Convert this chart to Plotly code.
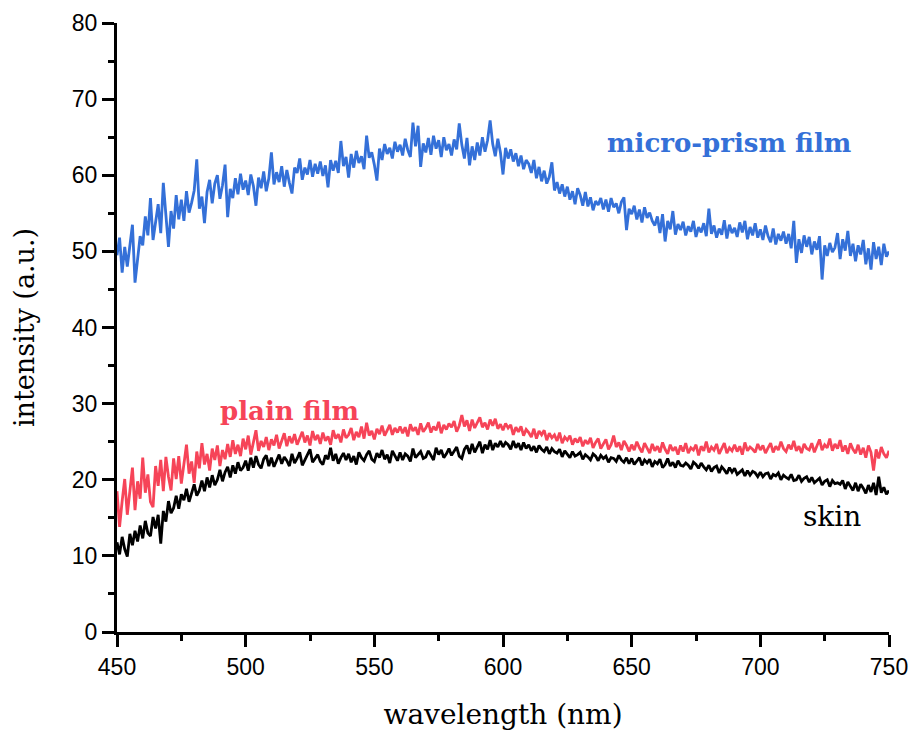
import numpy as np
import plotly.graph_objects as go

# Wavelength grid (nm), 1 nm steps
wavelength = list(range(450, 751))

# Measured intensity (a.u.) for each sample, one value per nm
micro_prism = [
    49.5, 51.8, 47.2, 50.6, 48.0, 51.2, 53.5, 45.9, 49.4, 52.0,
    50.8, 54.6, 52.1, 57.0, 51.5, 53.9, 56.2, 52.4, 59.0, 54.8,
    50.6, 55.3, 53.0, 57.4, 54.2, 56.8, 54.0, 57.9, 55.1, 56.4,
    58.0, 62.1, 55.6, 57.2, 53.7, 57.8, 59.4, 56.3, 58.9, 60.0,
    56.9, 58.7, 61.4, 54.5, 58.2, 57.0, 59.6, 57.5, 60.2, 58.1,
    59.3, 57.4, 60.1, 58.6, 56.0, 59.7, 58.3, 60.5, 57.9, 59.6,
    63.0, 58.8, 60.4, 59.1, 61.2, 58.5, 60.7, 59.0, 57.6, 61.0,
    60.3, 62.2, 59.4, 61.0, 60.1, 62.0, 59.8, 61.5, 60.2, 61.8,
    59.9, 61.3, 58.4, 62.0, 60.6, 61.9, 60.3, 64.5, 61.2, 62.4,
    59.7, 62.8, 61.0, 63.2, 61.6, 62.5, 60.8, 65.2, 62.3, 63.0,
    61.4, 59.3, 63.5, 62.0, 64.1, 62.8, 63.6, 62.2, 64.4, 63.1,
    64.0, 62.6, 64.8, 63.3, 62.4, 66.9, 63.8, 66.5, 61.1, 64.2,
    63.0, 64.9, 62.7, 65.2, 63.5, 64.6, 62.4, 65.0, 63.3, 64.1,
    62.6, 64.7, 63.4, 66.8, 64.0, 62.2, 64.9, 61.3, 63.8, 62.0,
    64.3, 62.6, 65.0, 63.1, 64.6, 67.2, 64.1, 62.5, 64.8, 63.0,
    60.1, 63.6, 62.2, 63.4, 61.8, 62.9, 61.2, 62.6, 60.8, 62.0,
    61.5, 60.3, 62.0, 59.6, 61.1, 59.2, 60.6, 58.9, 59.8, 61.7,
    58.0, 59.1, 57.6, 58.8, 57.2, 58.5, 56.8, 57.9, 56.2, 58.3,
    57.4, 56.0, 57.8, 55.9, 57.1, 55.4, 56.6, 56.1, 57.0, 55.5,
    56.8, 55.2, 57.0, 55.8, 56.3, 55.0, 56.5, 57.1, 52.8, 55.6,
    54.9, 56.0, 54.2, 55.5, 53.8, 55.8, 54.4, 55.1, 54.0, 53.4,
    54.6, 52.4, 54.9, 51.3, 54.0, 52.9, 55.3, 52.2, 53.6, 52.8,
    53.9, 52.1, 53.3, 52.6, 54.0, 51.9, 53.2, 52.5, 53.7, 52.0,
    55.6, 52.3, 53.4, 51.8, 53.0, 52.2, 54.1, 51.7, 53.5, 52.4,
    53.1, 51.9, 53.8, 52.5, 54.0, 51.6, 53.2, 52.1, 53.7, 51.8,
    52.9, 51.5, 53.4, 52.0, 51.2, 53.0, 50.9, 52.3, 51.4, 52.6,
    51.0, 52.3, 50.4, 54.0, 48.5, 51.6, 49.8, 52.1, 50.6, 51.9,
    49.6, 51.3, 50.2, 52.0, 46.3, 50.8, 49.4, 51.1, 49.9, 50.5,
    52.4, 49.0, 51.6, 50.1, 52.7, 49.4, 51.0, 48.7, 50.8, 49.6,
    51.5, 48.3, 50.4, 47.6, 51.2, 49.0, 50.6, 48.2, 51.0, 49.3,
    50.0,
]

plain_film = [
    18.5, 13.8, 17.2, 20.1, 15.4, 18.9, 21.6, 16.0, 19.8, 17.5,
    22.9, 18.3, 20.7, 17.1, 16.4, 21.8, 19.2, 22.6, 18.5, 23.0,
    20.4, 18.6, 22.8, 20.1, 23.1, 19.5, 21.9, 24.6, 20.8, 22.4,
    19.6, 23.7, 21.5, 24.8, 22.0, 23.4, 21.2, 24.1, 22.6, 24.5,
    21.8, 23.9, 22.7, 24.7, 23.0, 25.2, 23.4, 24.6, 23.1, 25.4,
    24.0, 25.8, 23.3, 24.9, 26.5, 23.8, 25.1, 24.3, 25.6, 23.9,
    25.3, 24.5, 25.9, 24.1, 25.0, 26.1, 24.4, 25.7, 24.8, 26.0,
    24.6, 25.5, 26.3, 24.9, 25.8, 24.5, 26.4, 25.2, 25.9, 24.7,
    26.2, 25.1, 25.7, 24.6, 26.5, 25.4, 26.0, 24.9, 26.6, 25.5,
    25.9, 26.8, 25.2, 26.3, 25.6, 27.0, 25.4, 27.5, 25.8, 26.4,
    25.3, 26.7, 26.0, 27.1, 25.8, 26.5, 27.2, 25.9, 26.8, 26.2,
    27.0, 26.1, 26.9, 25.7, 27.3, 26.4, 26.9, 25.9, 27.4, 26.3,
    26.8, 27.5, 26.2, 27.0, 26.5, 27.6, 26.1, 27.2, 26.6, 27.4,
    26.9, 27.7, 26.3, 27.1, 28.5, 27.0, 27.8, 26.4, 27.9, 26.8,
    27.6, 28.2, 26.9, 27.5, 26.6, 27.9, 27.1, 28.0, 26.7, 27.3,
    26.5, 27.4, 26.8, 27.2, 25.9, 26.9, 26.3, 27.0, 25.8, 26.6,
    26.2, 25.6, 26.7, 25.4, 26.4, 25.9, 26.5, 25.2, 26.1, 25.5,
    25.9, 25.1, 26.2, 24.8, 25.6, 25.2, 25.8, 24.6, 25.4, 24.9,
    25.6, 24.4, 25.2, 24.7, 25.5, 24.2, 24.9, 25.4, 24.1, 24.8,
    25.3, 24.0, 24.6, 25.8, 24.3, 24.9, 23.9, 25.1, 24.5, 23.7,
    24.6, 23.9, 25.0, 24.2, 23.6, 24.8, 24.1, 23.5, 24.7, 23.8,
    24.4, 23.6, 24.9, 24.0, 23.4, 24.6, 23.8, 24.3, 23.3, 24.5,
    23.7, 24.8, 23.5, 24.2, 23.9, 24.6, 23.2, 24.4, 23.8, 25.0,
    23.6, 24.3, 23.9, 24.7, 23.4, 24.1, 24.8, 23.5, 24.2, 23.8,
    24.6, 23.7, 24.4, 23.3, 24.9, 23.8, 24.3, 24.0, 23.6, 24.7,
    23.9, 24.5, 23.5, 24.2, 24.8, 23.6, 24.4, 23.9, 25.0, 24.1,
    23.7, 24.6, 24.0, 25.1, 23.8, 24.4, 23.5, 24.7, 24.1, 23.9,
    24.8, 23.6, 24.5, 25.3, 23.9, 24.6, 24.2, 25.4, 23.8, 24.7,
    24.1, 25.2, 23.7, 24.5, 23.4, 24.8, 24.0, 23.5, 24.6, 23.3,
    24.2, 22.9, 24.5, 23.6, 21.2, 24.0, 22.8, 24.3, 23.4, 22.9,
    23.8,
]

skin = [
    11.8, 10.2, 12.5, 10.9, 9.9, 12.9, 11.4, 13.3, 11.9, 14.0,
    12.3, 14.6, 13.0, 12.6, 15.1, 13.6, 15.4, 11.6, 15.9, 14.5,
    17.2, 15.6, 16.3, 17.9, 16.2, 18.1, 17.3, 18.8, 17.1, 18.4,
    19.4, 17.9, 18.6, 19.9, 18.5, 20.3, 19.0, 20.6, 19.3, 20.0,
    21.3, 19.8, 21.0, 21.7, 20.3, 21.9, 20.8, 22.3, 21.2, 21.6,
    22.5, 21.2, 22.9, 21.6, 23.1, 22.0, 21.5, 22.7, 23.2, 21.8,
    22.9, 21.7, 22.4, 23.3, 22.1, 23.0, 22.5, 21.8, 23.4, 22.2,
    22.8, 23.6, 21.9, 22.6, 23.1, 24.0, 22.3, 22.8, 23.3, 22.4,
    22.0, 23.2, 22.7, 24.2, 22.5, 23.4, 22.1, 22.9, 23.5, 22.6,
    23.4, 22.3, 23.1, 22.0, 23.6, 22.9, 22.5, 23.3, 23.8, 22.7,
    22.4, 23.5, 22.9, 23.9, 22.7, 23.3, 22.2, 23.8, 23.1, 22.5,
    23.6, 22.6, 23.4, 23.1, 22.4, 24.1, 22.9, 23.3, 23.7, 22.8,
    23.0, 23.8, 23.1, 22.6, 24.2, 23.3, 23.9, 22.9, 23.4, 24.1,
    23.2, 23.7, 24.3, 23.1, 22.8, 24.0, 24.5, 23.4, 24.7, 23.6,
    24.4, 25.0, 23.5, 24.6, 24.0, 25.2, 23.9, 24.8, 24.3, 25.1,
    24.3, 24.9, 24.6, 24.0, 25.1, 24.2, 24.8, 23.9, 24.9, 24.1,
    24.6, 23.8, 24.4, 23.6, 24.5, 24.0, 23.7, 24.3, 23.4, 24.1,
    23.7, 23.5, 24.0, 23.0, 23.8, 23.4, 22.9, 23.7, 23.1, 23.3,
    23.6, 22.7, 23.3, 23.0, 22.6, 23.4, 23.1, 22.5, 23.2, 22.8,
    23.1, 22.3, 22.9, 22.8, 22.4, 23.2, 22.6, 22.3, 22.9, 22.1,
    22.8, 22.0, 22.5, 22.9, 21.9, 22.6, 22.2, 22.7, 21.7, 22.4,
    22.1, 22.7, 21.6, 22.0, 22.8, 21.8, 22.3, 21.6, 22.5, 21.9,
    21.8, 22.2, 21.9, 21.4, 22.3, 22.0, 21.5, 22.2, 21.7, 21.3,
    21.9, 21.1, 21.6, 21.8, 20.9, 21.7, 21.3, 20.8, 21.6, 21.0,
    21.5, 20.7, 21.0, 21.3, 20.5, 21.2, 20.6, 21.1, 20.9, 20.4,
    21.0, 20.4, 20.8, 20.9, 20.1, 20.7, 20.5, 20.9, 20.0, 20.6,
    20.3, 20.1, 20.7, 19.9, 20.0, 20.6, 19.8, 20.2, 20.4, 19.7,
    20.3, 19.6, 19.9, 20.2, 19.3, 19.8, 20.0, 19.1, 19.9, 19.5,
    19.6, 19.4, 19.9, 18.8, 19.7, 19.1, 18.6, 19.6, 18.5, 19.4,
    18.9, 18.2, 19.3, 18.4, 19.6, 18.0, 20.4, 18.3, 19.0, 18.1,
    18.6,
]

x_ticks = [450, 500, 550, 600, 650, 700, 750]
y_ticks = [0, 10, 20, 30, 40, 50, 60, 70, 80]

BLUE = "#3470d8"
RED = "#f64458"
BLACK = "#000000"
SERIF = "DejaVu Serif"
SANS = "Liberation Sans"

fig = go.Figure()
for ys, color in [(micro_prism, BLUE), (plain_film, RED), (skin, BLACK)]:
    fig.add_trace(go.Scatter(
        x=wavelength, y=ys, mode="lines",
        line=dict(color=color, width=2.8),
        showlegend=False, hoverinfo="skip",
    ))

# Curve labels
fig.add_annotation(x=688, y=64.2, text="<b>micro-prism film</b>", showarrow=False,
                   font=dict(family=SERIF, size=26, color=BLUE), xanchor="center", yanchor="middle")
fig.add_annotation(x=517, y=29.0, text="<b>plain film</b>", showarrow=False,
                   font=dict(family=SERIF, size=26, color=RED), xanchor="center", yanchor="middle")
fig.add_annotation(x=728, y=15.2, text="skin", showarrow=False,
                   font=dict(family=SERIF, size=28, color=BLACK), xanchor="center", yanchor="middle")

axis_common = dict(
    showline=True, linecolor="black", linewidth=3,
    ticks="outside", ticklen=12, tickwidth=3, tickcolor="black",
    showgrid=False, zeroline=False, automargin=False,
    tickfont=dict(family=SANS, size=23, color="black"),
)

fig.update_xaxes(
    range=[450, 750], tickmode="array", tickvals=x_ticks,
    minor=dict(dtick=25, ticks="outside", ticklen=6, tickwidth=3, tickcolor="black", showgrid=False),
    title=dict(text="wavelength (nm)", font=dict(family=SERIF, size=28, color="black"), standoff=26),
    **axis_common,
)
fig.update_yaxes(
    range=[0, 80], tickmode="array", tickvals=y_ticks,
    minor=dict(dtick=5, ticks="outside", ticklen=6, tickwidth=3, tickcolor="black", showgrid=False),
    title=dict(text="intensity (a.u.)", font=dict(family=SERIF, size=27, color="black"), standoff=30),
    **axis_common,
)

fig.update_layout(
    width=912, height=735,
    margin=dict(l=117, r=23, t=23, b=103),
    paper_bgcolor="white", plot_bgcolor="white",
)

fig.write_html("out.html")
